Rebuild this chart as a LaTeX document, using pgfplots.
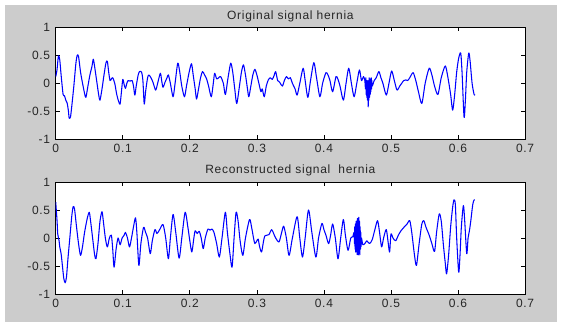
\documentclass[border=0pt]{standalone}
\usepackage{pgfplots}
\pgfplotsset{compat=1.18}
\usepackage{fontspec}
\setmainfont{Liberation Sans}[LetterSpace=6]
\definecolor{figgray}{RGB}{204,204,204}

\pgfplotsset{
  sigaxis/.style={
    scale only axis, width=352pt, height=84pt,
    xmin=0, xmax=0.7, ymin=-1, ymax=1,
    xtick={0,0.1,0.2,0.3,0.4,0.5,0.6,0.7},
    xticklabels={0,0.1,0.2,0.3,0.4,0.5,0.6,0.7},
    ytick={-1,-0.5,0,0.5,1},
    yticklabels={-1,-0.5,0,0.5,1},
    tick align=inside, major tick length=3pt,
    tick style={black, line width=0.5pt},
    axis line style={black, line width=0.6pt},
    axis background/.style={fill=white},
    tick label style={font=\fontsize{9}{10}\selectfont, text=black!85},
    xticklabel style={anchor=north, inner sep=0pt, yshift=-3.5pt},
    yticklabel style={anchor=east, inner sep=0pt, xshift=-4pt},
    every axis title/.style={at={(0.5,1)}, anchor=base, yshift=6.2pt, inner sep=0pt,
      font=\fontsize{9}{10}\selectfont, text=black!85},
    every axis plot/.append style={blue, line width=0.8pt, line join=round, no markers,
      smooth, tension=0.45},
  }
}

\begin{document}
\begin{tikzpicture}
\useasboundingbox (0,0) rectangle (420.75pt,241.5pt);
\fill[white] (0,0) rectangle (420.75pt,241.5pt);
\fill[figgray] (3.8pt,0) rectangle (417.8pt,237.8pt);

% upper panel: original signal
\begin{axis}[sigaxis, at={(41.8pt,137pt)}, anchor=south west,
  title={Original signal hernia}]
\addplot coordinates {
(0,0.12) (0.002,0.25) (0.004,0.49) (0.006,0.42) (0.008,0.15) (0.011,-0.2) (0.013,-0.22)
(0.015,-0.3) (0.017,-0.35) (0.019,-0.5) (0.02,-0.62) (0.022,-0.6) (0.024,-0.4) (0.027,-0.05)
(0.03,0.35) (0.032,0.5) (0.034,0.48) (0.037,0.2) (0.04,0.0) (0.043,-0.18) (0.045,-0.25)
(0.048,-0.05) (0.051,0.15) (0.054,0.3) (0.056,0.43) (0.058,0.3) (0.061,0.05) (0.064,-0.2)
(0.066,-0.3) (0.069,-0.1) (0.072,0.15) (0.075,0.37) (0.077,0.39) (0.079,0.2) (0.081,0.05)
(0.083,0.08) (0.085,0.1) (0.088,0.0) (0.091,-0.2) (0.094,-0.33) (0.096,-0.37) (0.098,-0.15)
(0.1,0.07) (0.102,-0.02) (0.104,-0.09) (0.106,0.0) (0.108,0.05) (0.111,0.04) (0.114,0.05)
(0.116,-0.05) (0.118,-0.21) (0.12,-0.05) (0.123,0.15) (0.125,0.21) (0.128,0.2) (0.13,0.05)
(0.132,-0.37) (0.134,-0.15) (0.137,0.1) (0.139,0.15) (0.142,0.1) (0.145,0.02) (0.149,-0.12)
(0.152,0.0) (0.156,0.18) (0.158,0.05) (0.16,-0.07) (0.163,0.02) (0.166,0.1) (0.168,0.15)
(0.171,0.0) (0.175,-0.24) (0.178,0.0) (0.182,0.36) (0.185,0.2) (0.188,-0.05) (0.192,-0.24)
(0.195,-0.05) (0.199,0.2) (0.2025,0.35) (0.205,0.15) (0.208,-0.1) (0.21,-0.28) (0.213,-0.1)
(0.216,0.1) (0.219,0.21) (0.222,0.15) (0.225,0.08) (0.228,-0.05) (0.232,-0.24) (0.235,0.0)
(0.237,0.18) (0.24,0.08) (0.243,0.1) (0.246,0.12) (0.25,0.0) (0.253,-0.2) (0.257,0.1)
(0.261,0.36) (0.264,0.2) (0.267,-0.1) (0.27,-0.36) (0.274,-0.05) (0.277,0.2) (0.28,0.33)
(0.283,0.15) (0.286,-0.1) (0.288,-0.24) (0.291,-0.05) (0.294,0.15) (0.297,0.25) (0.3,0.15)
(0.303,0.0) (0.306,-0.15) (0.308,-0.1) (0.311,-0.24) (0.314,-0.05) (0.317,0.06) (0.32,0.1)
(0.323,0.07) (0.326,0.15) (0.328,0.21) (0.331,0.05) (0.334,0.02) (0.338,-0.05) (0.341,0.05)
(0.344,0.12) (0.347,0.08) (0.35,0.1) (0.353,0.0) (0.357,-0.1) (0.36,-0.21) (0.364,0.0)
(0.369,0.27) (0.372,0.05) (0.376,-0.25) (0.38,0.05) (0.385,0.37) (0.389,0.1) (0.394,-0.24)
(0.398,0.0) (0.403,0.19) (0.406,0.15) (0.409,0.05) (0.413,-0.15) (0.418,0.12) (0.421,0.07)
(0.424,-0.05) (0.429,-0.3) (0.433,0.0) (0.437,0.27) (0.441,0.0) (0.445,-0.24) (0.449,0.0)
(0.453,0.24) (0.456,0.05) (0.459,0.12) (0.461,0.05)
(0.462,-0.1) (0.4625,0.1) (0.463,-0.2) (0.4635,0.05) (0.464,-0.25) (0.4645,0.0) (0.465,-0.3)
(0.4655,0.05) (0.466,-0.42) (0.4665,-0.05) (0.467,-0.3) (0.4675,0.1) (0.468,-0.25) (0.4685,0.05)
(0.469,-0.2) (0.4695,0.08) (0.47,-0.15) (0.4705,0.1) (0.471,-0.1) (0.4715,0.05) (0.472,-0.05)
(0.475,0.05) (0.478,0.1) (0.482,0.21) (0.485,0.1) (0.488,0.0) (0.493,-0.21) (0.497,0.0)
(0.501,0.22) (0.505,0.05) (0.509,-0.12) (0.513,-0.05) (0.516,0.0) (0.519,0.05) (0.522,0.06)
(0.525,0.05) (0.528,0.1) (0.533,0.19) (0.537,0.05) (0.541,-0.15) (0.546,-0.36) (0.551,0.0)
(0.557,0.27) (0.561,0.15) (0.565,-0.05) (0.57,-0.2) (0.575,0.1) (0.581,0.31) (0.585,0.1)
(0.589,-0.2) (0.592,-0.48) (0.595,-0.2) (0.598,0.2) (0.601,0.45) (0.604,0.54) (0.606,0.2)
(0.609,-0.6) (0.611,-0.3) (0.613,0.2) (0.616,0.54) (0.618,0.4) (0.621,0.0) (0.624,-0.2)
(0.625,-0.2)
};
\end{axis}

% lower panel: reconstructed signal
\begin{axis}[sigaxis, at={(41.8pt,21pt)}, anchor=south west,
  title={Reconstructed signal\ \ hernia}]
\addplot coordinates {
(0,0.64) (0.002,0.3) (0.003,0.07) (0.005,-0.05) (0.006,-0.16) (0.008,-0.28) (0.01,-0.5)
(0.012,-0.72) (0.014,-0.8) (0.016,-0.7) (0.018,-0.4) (0.021,0.0) (0.024,0.4) (0.026,0.56)
(0.028,0.52) (0.031,0.2) (0.034,-0.1) (0.037,-0.31) (0.04,-0.15) (0.043,0.1) (0.047,0.35)
(0.05,0.46) (0.052,0.3) (0.055,0.0) (0.058,-0.3) (0.06,-0.37) (0.063,-0.1) (0.066,0.3)
(0.069,0.47) (0.071,0.3) (0.074,0.0) (0.077,-0.16) (0.08,0.0) (0.083,0.05) (0.085,-0.2)
(0.087,-0.52) (0.09,-0.2) (0.093,0.0) (0.096,-0.12) (0.099,0.0) (0.102,0.05) (0.104,0.1)
(0.107,0.0) (0.11,-0.16) (0.113,0.0) (0.116,0.2) (0.119,0.36) (0.121,0.1) (0.124,-0.49)
(0.127,-0.1) (0.131,0.19) (0.134,0.1) (0.137,0.0) (0.141,-0.28) (0.144,-0.05) (0.148,0.15)
(0.151,0.08) (0.155,0.15) (0.16,0.24) (0.164,0.0) (0.168,-0.37) (0.171,0.0) (0.175,0.42)
(0.179,0.1) (0.184,-0.36) (0.188,0.0) (0.193,0.46) (0.197,0.2) (0.2,-0.05) (0.203,-0.25)
(0.206,0.0) (0.208,0.13) (0.211,0.08) (0.214,0.12) (0.217,0.0) (0.22,-0.19) (0.223,0.0)
(0.227,0.16) (0.23,0.14) (0.233,0.16) (0.236,0.1) (0.24,-0.1) (0.244,-0.34) (0.248,0.0)
(0.253,0.46) (0.256,0.1) (0.26,-0.3) (0.263,-0.52) (0.266,0.0) (0.269,0.46) (0.272,0.3)
(0.275,-0.05) (0.279,-0.31) (0.283,0.0) (0.289,0.33) (0.292,0.2) (0.295,0.0) (0.297,-0.1)
(0.3,-0.05) (0.302,-0.02) (0.304,-0.15) (0.307,-0.25) (0.31,-0.05) (0.312,0.04) (0.315,0.05)
(0.318,0.06) (0.322,0.15) (0.325,0.08) (0.328,0.0) (0.333,-0.07) (0.337,0.1) (0.34,0.21)
(0.344,0.0) (0.348,-0.31) (0.353,0.0) (0.36,0.38) (0.364,0.0) (0.368,-0.34) (0.372,0.0)
(0.377,0.5) (0.382,0.1) (0.388,-0.34) (0.392,0.0) (0.397,0.26) (0.4,0.15) (0.403,0.05)
(0.407,-0.1) (0.41,0.05) (0.413,0.25) (0.417,0.0) (0.421,-0.37) (0.425,0.0) (0.429,0.33)
(0.432,0.05) (0.436,-0.22) (0.44,0.0) (0.443,0.02) (0.445,0.1)
(0.4455,-0.1) (0.446,0.2) (0.4465,-0.2) (0.447,0.25) (0.4475,-0.25) (0.448,0.3) (0.4485,-0.2)
(0.449,0.3) (0.4495,-0.3) (0.45,0.35) (0.4505,-0.25) (0.451,0.3) (0.4515,-0.3) (0.452,0.37)
(0.4525,-0.2) (0.453,0.3) (0.4535,-0.3) (0.454,0.2) (0.4545,-0.2) (0.455,0.1) (0.4555,-0.15)
(0.456,0.0) (0.458,-0.12) (0.461,-0.1) (0.464,-0.05) (0.468,-0.1) (0.472,-0.03) (0.476,0.15)
(0.48,0.31) (0.483,0.1) (0.486,-0.16) (0.489,0.0) (0.493,0.15) (0.496,-0.1) (0.498,-0.25)
(0.5,0.07) (0.503,0.0) (0.507,-0.05) (0.511,0.05) (0.515,0.13) (0.52,0.2) (0.524,0.25)
(0.528,0.31) (0.531,0.1) (0.535,-0.3) (0.538,-0.49) (0.542,-0.1) (0.546,0.25) (0.549,0.31)
(0.552,0.2) (0.557,0.05) (0.561,-0.1) (0.565,-0.24) (0.568,0.1) (0.572,0.43) (0.575,0.3)
(0.578,-0.1) (0.581,-0.45) (0.583,-0.64) (0.586,-0.3) (0.589,0.2) (0.592,0.55) (0.594,0.68)
(0.596,0.6) (0.598,0.0) (0.601,-0.61) (0.603,-0.3) (0.605,0.2) (0.608,0.58) (0.61,0.3)
(0.613,-0.28) (0.615,0.0) (0.617,0.13) (0.619,0.3) (0.622,0.6) (0.624,0.68) (0.625,0.68)
};
\end{axis}
\end{tikzpicture}
\end{document}
